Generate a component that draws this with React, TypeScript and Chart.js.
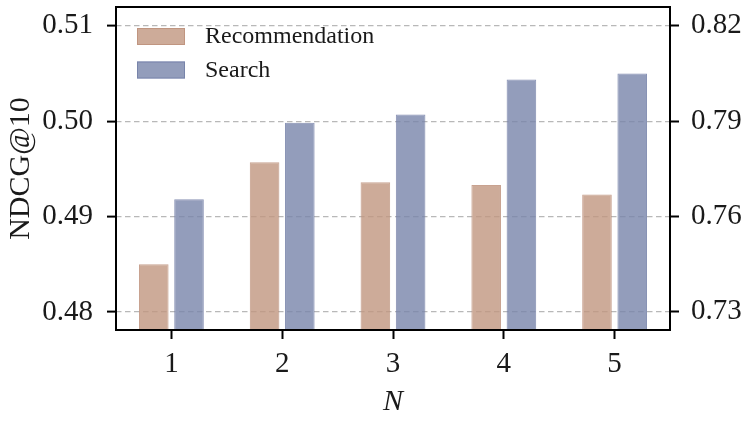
import React, { useEffect, useRef } from "react";
import { Chart, registerables } from "chart.js";

Chart.register(...registerables);

const categories = ["1", "2", "3", "4", "5"];
const recommendation = [0.485, 0.4957, 0.4936, 0.4933, 0.4923];
const search = [0.7654, 0.7895, 0.7921, 0.8031, 0.805];
const leftTicks = [0.48, 0.49, 0.5, 0.51];
const rightTicks = [0.73, 0.76, 0.79, 0.82];
const seriesLabels = ["Recommendation", "Search"];

const FONT = "'Liberation Serif', 'Times New Roman', serif";
const TXT = "#1a1a1a";
const recFill = "rgba(193,150,128,0.8)";
const recEdge = "rgba(190,146,124,0.85)";
const seaFill = "rgba(120,132,170,0.8)";
const seaEdge = "rgba(116,128,168,0.85)";

export default function App() {
  const ref = useRef<HTMLCanvasElement | null>(null);
  useEffect(() => {
    document.body.style.margin = "0";
    const frame = {
      id: "frame",
      afterDraw(chart: any) {
        const { ctx, chartArea: a } = chart;
        ctx.save();
        ctx.strokeStyle = "#000";
        ctx.lineWidth = 2;
        ctx.strokeRect(a.left, a.top, a.right - a.left, a.bottom - a.top);
        const items = [
          { t: seriesLabels[0], f: recFill, e: recEdge },
          { t: seriesLabels[1], f: seaFill, e: seaEdge },
        ];
        items.forEach((it, i) => {
          const x = a.left + 21;
          const y = a.top + 21 + i * 33.5;
          ctx.fillStyle = it.f;
          ctx.fillRect(x, y, 48, 17);
          ctx.strokeStyle = it.e;
          ctx.lineWidth = 1;
          ctx.strokeRect(x + 0.5, y + 0.5, 47, 16);
          ctx.fillStyle = TXT;
          ctx.font = `24px ${FONT}`;
          ctx.textBaseline = "middle";
          ctx.textAlign = "left";
          ctx.fillText(it.t, x + 68, y + 9);
        });
        ctx.restore();
      },
    };
    const zeroPad = (s: any) => {
      s.paddingTop = 0;
      s.paddingBottom = 0;
      s.paddingLeft = 0;
      s.paddingRight = 0;
    };
    const chart = new Chart(ref.current!, {
      type: "bar",
      data: {
        labels: categories,
        datasets: [
          {
            label: seriesLabels[0],
            data: recommendation,
            yAxisID: "y",
            backgroundColor: recFill,
            borderColor: recEdge,
            borderWidth: 1,
          },
          {
            label: seriesLabels[1],
            data: search,
            yAxisID: "y2",
            backgroundColor: seaFill,
            borderColor: seaEdge,
            borderWidth: 1,
          },
        ],
      },
      options: {
        animation: false,
        responsive: true,
        maintainAspectRatio: false,
        layout: { padding: { top: 7, left: 0, right: 0, bottom: 0 } },
        datasets: { bar: { categoryPercentage: 0.636, barPercentage: 0.84 } },
        plugins: { legend: { display: false }, tooltip: { enabled: false } },
        scales: {
          x: {
            type: "category",
            offset: true,
            grid: {
              offset: false,
              drawOnChartArea: false,
              tickLength: 9,
              tickColor: "#000",
              tickWidth: 2,
            },
            border: { display: false },
            ticks: {
              color: TXT,
              font: { family: FONT, size: 29 },
              padding: 8,
              maxRotation: 0,
            },
            title: {
              display: true,
              text: "N",
              color: TXT,
              font: { family: FONT, size: 30, style: "italic" },
              padding: { top: 0, bottom: 5 },
            },
            afterFit(s: any) {
              zeroPad(s);
              s.height = 95;
            },
          },
          y: {
            type: "linear",
            position: "left",
            min: 0.47811,
            max: 0.51196,
            afterBuildTicks(s: any) {
              s.ticks = leftTicks.map((v) => ({ value: v }));
            },
            grid: {
              color: "#b8b8b8",
              lineWidth: 1.2,
              tickLength: 9,
              tickColor: "#000",
              tickWidth: 2,
              tickBorderDash: [],
            },
            border: { display: false, dash: [5.5, 3.5] },
            ticks: {
              color: TXT,
              font: { family: FONT, size: 29 },
              padding: 14,
              callback: (v: any) => Number(v).toFixed(2),
            },
            title: {
              display: true,
              text: "NDCG@10",
              color: TXT,
              font: { family: FONT, size: 30 },
              padding: { top: 3, bottom: 0 },
            },
            afterFit(s: any) {
              zeroPad(s);
              s.width = 116;
            },
          },
          y2: {
            type: "linear",
            position: "right",
            min: 0.7243,
            max: 0.8259,
            afterBuildTicks(s: any) {
              s.ticks = rightTicks.map((v) => ({ value: v }));
            },
            grid: {
              drawOnChartArea: false,
              tickLength: 9,
              tickColor: "#000",
              tickWidth: 2,
            },
            border: { display: false },
            ticks: {
              color: TXT,
              font: { family: FONT, size: 29 },
              padding: 12,
              callback: (v: any) => Number(v).toFixed(2),
            },
            afterFit(s: any) {
              zeroPad(s);
              s.width = 78;
            },
          },
        },
      },
      plugins: [frame],
    } as any);
    return () => chart.destroy();
  }, []);
  return (
    <div style={{ position: "absolute", left: 0, top: 0, width: 748, height: 425 }}>
      <canvas ref={ref} />
    </div>
  );
}
